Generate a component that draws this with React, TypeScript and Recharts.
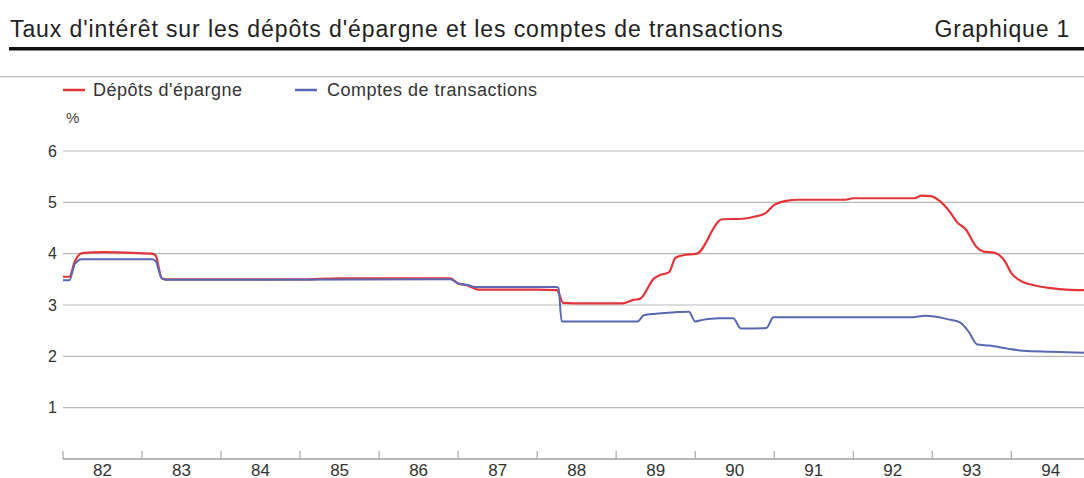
import React from 'react';
import { LineChart, Line, XAxis, YAxis, CartesianGrid } from 'recharts';

// Dépôts d'épargne (decimal year, %)
const savingsDates = [
  1982.0, 1982.08, 1982.15, 1982.24, 1982.5, 1982.8, 1983.12, 1983.17, 1983.25, 1983.3,
  1984.0, 1985.0, 1985.5, 1986.9, 1987.0, 1987.12, 1987.25, 1988.0, 1988.25, 1988.33,
  1988.6, 1989.08, 1989.22, 1989.3, 1989.48, 1989.55, 1989.67, 1989.75, 1989.85, 1990.02,
  1990.34, 1990.6, 1990.75, 1990.88, 1991.0, 1991.15, 1991.3, 1991.9, 1992.0, 1992.78,
  1992.86, 1992.98, 1993.1, 1993.23, 1993.31, 1993.42, 1993.56, 1993.65, 1993.78, 1993.92,
  1994.0, 1994.12, 1994.3, 1994.5, 1994.7, 1994.92,
];
const savingsRates = [
  3.55, 3.55, 3.85, 4.01, 4.03, 4.02, 4.0, 3.97, 3.52, 3.5,
  3.5, 3.5, 3.52, 3.52, 3.42, 3.38, 3.3, 3.3, 3.29, 3.04,
  3.03, 3.03, 3.1, 3.12, 3.52, 3.58, 3.64, 3.92, 3.97, 4.0,
  4.67, 4.68, 4.72, 4.78, 4.95, 5.03, 5.05, 5.05, 5.08, 5.08,
  5.13, 5.12, 5.02, 4.8, 4.62, 4.48, 4.13, 4.04, 4.02, 3.85,
  3.62, 3.47, 3.38, 3.33, 3.3, 3.29,
];

// Comptes de transactions (decimal year, %)
const transactionDates = [
  1982.0, 1982.08, 1982.15, 1982.24, 1983.12, 1983.17, 1983.25, 1983.3, 1986.9, 1987.0,
  1987.12, 1987.22, 1988.24, 1988.27, 1988.31, 1989.27, 1989.35, 1989.5, 1989.75, 1989.92,
  1990.0, 1990.1, 1990.3, 1990.48, 1990.58, 1990.9, 1990.99, 1991.5, 1992.75, 1992.9,
  1993.05, 1993.2, 1993.35, 1993.46, 1993.57, 1993.72, 1993.95, 1994.15, 1994.5, 1994.92,
];
const transactionRates = [
  3.48, 3.48, 3.8, 3.89, 3.89, 3.86, 3.52, 3.49, 3.5, 3.42,
  3.39, 3.35, 3.35, 3.33, 2.68, 2.68, 2.8, 2.83, 2.86, 2.87,
  2.68, 2.71, 2.74, 2.74, 2.54, 2.55, 2.76, 2.76, 2.76, 2.79,
  2.77, 2.72, 2.66, 2.48, 2.23, 2.21, 2.15, 2.11, 2.09, 2.07,
];

const years = [1982, 1983, 1984, 1985, 1986, 1987, 1988, 1989, 1990, 1991, 1992, 1993, 1994];
const yearLabels = ['82', '83', '84', '85', '86', '87', '88', '89', '90', '91', '92', '93', '94'];
const yTicks = [1, 2, 3, 4, 5, 6];

const savingsData = savingsDates.map((t, i) => ({ t, v: savingsRates[i] }));
const transactionData = transactionDates.map((t, i) => ({ t, v: transactionRates[i] }));

const FONT = '"Liberation Sans", Arial, Helvetica, sans-serif';
const RED = '#e2353b';
const BLUE = '#5a68b2';
const domain: [number, number] = [1982, 1994.92];

const NoLabel = () => <g />;

export default function App() {
  return (
    <div style={{ position: 'absolute', left: 0, top: 0, width: 1084, height: 478, background: '#fff', fontFamily: FONT }}>
      <svg width={1084} height={140} style={{ position: 'absolute', left: 0, top: 0 }}>
        <text x={10} y={37} fontSize={23} letterSpacing={0.9} fill="#222" fontFamily={FONT}>
          Taux d'intérêt sur les dépôts d'épargne et les comptes de transactions
        </text>
        <text x={1070} y={37} fontSize={23} letterSpacing={0.8} fill="#222" textAnchor="end" fontFamily={FONT}>
          Graphique 1
        </text>
        <rect x={9} y={47} width={1075} height={3.5} fill="#111" />
        <rect x={0} y={76} width={1084} height={1.5} fill="#c9c9c9" />
        <line x1={63} x2={85} y1={90} y2={90} stroke={RED} strokeWidth={2.5} />
        <text x={93} y={96} fontSize={18} letterSpacing={0.5} fill="#333" fontFamily={FONT}>
          Dépôts d'épargne
        </text>
        <line x1={295} x2={317} y1={90} y2={90} stroke={BLUE} strokeWidth={2.5} />
        <text x={327} y={96} fontSize={18} letterSpacing={0.5} fill="#333" fontFamily={FONT}>
          Comptes de transactions
        </text>
        <text x={66} y={123} fontSize={15} fill="#444" fontFamily={FONT}>
          %
        </text>
      </svg>
      <div style={{ position: 'absolute', left: 0, top: 140 }}>
        <LineChart width={1084} height={340} margin={{ top: 11, right: 0, left: 0, bottom: 0 }}>
          <CartesianGrid vertical={false} stroke="#b9b9b9" strokeWidth={1.2} />
          <XAxis
            xAxisId="labels"
            type="number"
            dataKey="t"
            domain={domain}
            allowDataOverflow
            ticks={years.map((y) => y + 0.5)}
            tickFormatter={(v: number) => yearLabels[years.indexOf(Math.floor(v))]}
            axisLine={{ stroke: '#a8a8a8', strokeWidth: 1.5 }}
            tickLine={false}
            tickSize={0}
            tickMargin={5}
            height={21}
            interval={0}
            tick={{ fontSize: 17, fill: '#333', fontFamily: FONT }}
          />
          <XAxis
            xAxisId="frame"
            type="number"
            dataKey="t"
            domain={domain}
            allowDataOverflow
            ticks={years}
            interval={0}
            mirror
            axisLine={false}
            tickLine={{ stroke: '#a8a8a8', strokeWidth: 1.2 }}
            tickSize={8}
            tick={<NoLabel />}
          />
          <YAxis
            type="number"
            domain={[0, 6]}
            ticks={yTicks}
            width={63}
            axisLine={false}
            tickLine={false}
            tickSize={6}
            tickMargin={0}
            tick={{ fontSize: 16, fill: '#333', fontFamily: FONT }}
          />
          <Line
            xAxisId="labels"
            data={savingsData}
            dataKey="v"
            type="monotone"
            stroke={RED}
            strokeWidth={2.2}
            dot={false}
            isAnimationActive={false}
          />
          <Line
            xAxisId="labels"
            data={transactionData}
            dataKey="v"
            type="monotone"
            stroke={BLUE}
            strokeWidth={2}
            dot={false}
            isAnimationActive={false}
          />
        </LineChart>
      </div>
    </div>
  );
}
